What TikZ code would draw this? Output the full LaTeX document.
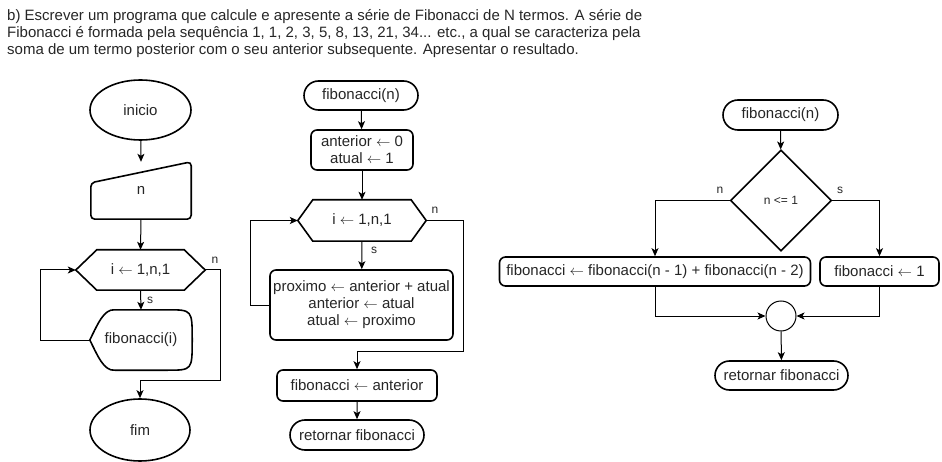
\documentclass[tikz,border=0pt]{standalone}
\usepackage{fontspec}
\setmainfont{Liberation Sans}
\usetikzlibrary{shapes.geometric,shapes.misc,arrows.meta,calc}
\newcommand{\larr}{\ensuremath{\leftarrow}}
\begin{document}
\begin{tikzpicture}[x=1pt,y=-1pt,
  every node/.style={font=\fontsize{15}{17}\selectfont, inner sep=0pt, text=black!85},
  shp/.style={draw, line width=1.6pt},
  box/.style={shp, rounded corners=6pt, rectangle, align=center},
  stad/.style={shp, rounded rectangle},
  term/.style={shp, ellipse},
  plain/.style={rectangle, align=center},
  lbl/.style={font=\fontsize{12}{14}\selectfont},
  con/.style={line width=1pt, -{Stealth[length=8pt,width=7pt,inset=2pt]}},
]
\useasboundingbox (0,0) rectangle (942,462);

% title
\node[anchor=base west] (t1) at (7,20.5) {b) Escrever um programa que calcule e apresente a série de Fibonacci de N termos. A série de};
\node[anchor=base west] (t2) at (7,37.5) {Fibonacci é formada pela sequência 1, 1, 2, 3, 5, 8, 13, 21, 34... etc., a qual se caracteriza pela};
\node[anchor=base west] (t3) at (7,54.5) {soma de um termo posterior com o seu anterior subsequente. Apresentar o resultado.};

% ---------- left flowchart ----------
\node[term, minimum width=101pt, minimum height=60pt] (ini) at (140.5,110) {inicio};
\node[plain, minimum width=100pt, minimum height=57pt] (inp) at (141,190.5) {n};
\draw[shp, rounded corners=4pt] (inp.south west) -- ($(inp.north west)+(0,21)$) -- (inp.north east) -- (inp.south east) -- cycle;
\node[plain, minimum width=129pt, minimum height=40pt] (h1) at (140.5,270) {i \larr{} 1,n,1};
\draw[shp] (h1.west) -- ($(h1.north west)+(21,0)$) -- ($(h1.north east)+(-21,0)$) -- (h1.east) -- ($(h1.south east)+(-21,0)$) -- ($(h1.south west)+(21,0)$) -- cycle;
\node[plain, minimum width=102pt, minimum height=60pt] (d1) at (141,340) {fibonacci(i)};
\draw[shp] (d1.west) .. controls ($(d1.west)+(8,-16)$) and ($(d1.north west)+(14,-1)$) .. ($(d1.north west)+(25,0)$)
  -- ($(d1.north east)+(-25,0)$) .. controls (d1.north east) .. (d1.east)
  .. controls (d1.south east) .. ($(d1.south east)+(-25,0)$)
  -- ($(d1.south west)+(25,0)$) .. controls ($(d1.south west)+(14,1)$) and ($(d1.west)+(8,16)$) .. (d1.west) -- cycle;
\node[term, minimum width=100pt, minimum height=62pt] (fim) at (140,430) {fim};

\draw[con] (ini) -- (inp.north);
\draw[con] (inp.south) -- (h1.north);
\draw[con] (h1.south) -- (d1.north);
\draw[con] (d1.west) -- ++(-49,0) |- (h1.west);
\draw[con] (h1.east) -| (220,380) -| (fim.north);
\node[lbl] (s1) at (150,300) {s};
\node[lbl] (n1) at (215,260) {n};

% ---------- middle flowchart ----------
\node[stad, minimum width=114pt, minimum height=29pt] (fn2) at (361,95.5) {fibonacci(n)};
\node[box, minimum width=102pt, minimum height=40pt] (b1) at (362,150) {anterior \larr{} 0\\atual \larr{} 1};
\node[plain, minimum width=128pt, minimum height=41pt] (h2) at (362,220.5) {i \larr{} 1,n,1};
\draw[shp] (h2.west) -- ($(h2.north west)+(15,0)$) -- ($(h2.north east)+(-15,0)$) -- (h2.east) -- ($(h2.south east)+(-15,0)$) -- ($(h2.south west)+(15,0)$) -- cycle;
\node[box, minimum width=183pt, minimum height=70pt] (p1) at (361.5,305) {proximo \larr{} anterior + atual\\anterior \larr{} atual\\atual \larr{} proximo};
\node[box, minimum width=160pt, minimum height=31pt] (b2) at (357,385.5) {fibonacci \larr{} anterior};
\node[stad, minimum width=134pt, minimum height=30pt] (r2) at (357,435) {retornar fibonacci};

\draw[con] (fn2) -- (b1);
\draw[con] (b1) -- (h2.north);
\draw[con] (h2.south) -- (p1);
\draw[con] (p1.west) -- ++(-19,0) |- (h2.west);
\draw[con] (h2.east) -| (463,351) -| (b2.north);
\draw[con] (b2) -- (r2);
\node[lbl] (s2) at (374,250) {s};
\node[lbl] (n2) at (435,210) {n};

% ---------- right flowchart ----------
\node[stad, minimum width=115pt, minimum height=30pt] (fn3) at (780.5,115) {fibonacci(n)};
\node[shp, diamond, minimum width=101pt, minimum height=101pt, font=\fontsize{12}{14}\selectfont] (dm) at (781,200.5) {n <= 1};
\node[box, minimum width=311pt, minimum height=29pt] (bl) at (655,271.5) {fibonacci \larr{} fibonacci(n - 1) + fibonacci(n - 2)};
\node[box, minimum width=119pt, minimum height=29pt] (br) at (879.5,271.5) {fibonacci \larr{} 1};
\node[draw, circle, line width=1pt, minimum size=30pt] (cc) at (781,316) {};
\node[stad, minimum width=133pt, minimum height=29pt] (r3) at (781.5,375.5) {retornar fibonacci};

\draw[con] (fn3) -- (dm);
\draw[con] (dm.west) -| (bl.north);
\draw[con] (dm.east) -| (br.north);
\draw[con] (bl.south) |- (cc.west);
\draw[con] (br.south) |- (cc.east);
\draw[con] (cc) -- (r3);
\node[lbl] (n3) at (720,190) {n};
\node[lbl] (s3) at (840,190) {s};
\end{tikzpicture}
\end{document}
